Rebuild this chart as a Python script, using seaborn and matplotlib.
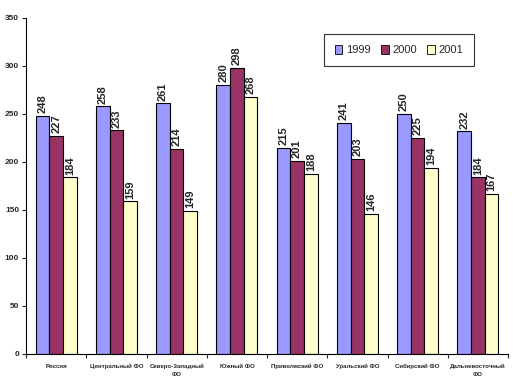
import matplotlib
matplotlib.use("Agg")
import matplotlib.pyplot as plt
import seaborn as sns
import pandas as pd
import numpy as np

categories = ["Россия", "Центральный ФО", "Северо-Западный\nФО", "Южный ФО",
              "Приволжский ФО", "Уральский ФО", "Сибирский ФО", "Дальневосточный\nФО"]
years = ["1999", "2000", "2001"]
v1999 = [248, 258, 261, 280, 215, 241, 250, 232]
v2000 = [227, 233, 214, 298, 201, 203, 225, 184]
v2001 = [184, 159, 149, 268, 188, 146, 194, 167]
colors = ["#9999FF", "#993366", "#FFFFCC"]

rows = []
for y, vals in zip(years, [v1999, v2000, v2001]):
    for c, v in zip(categories, vals):
        rows.append({"cat": c, "year": y, "value": v})
df = pd.DataFrame(rows)

sns.set_style("white")
plt.rcParams['font.family'] = ['Liberation Sans', 'DejaVu Sans']

fig = plt.figure(figsize=(5.14, 3.92), dpi=100)
ax = fig.add_axes([26/514, 38/392, 482/514, 336/392])

sns.barplot(data=df, x="cat", y="value", hue="year", order=categories, hue_order=years,
            palette=colors, width=0.68, edgecolor="black", linewidth=0.8,
            saturation=1, ax=ax, legend=True)

for cont in ax.containers:
    ax.bar_label(cont, labels=[f"{int(round(b.get_height()))}" for b in cont],
                 rotation=90, padding=2, fontsize=8, fontweight="bold")

ax.set_ylim(0, 350)
ax.set_xlim(-0.5, len(categories) - 0.5)
ax.set_yticks(np.arange(0, 351, 50))
ax.set_xlabel("")
ax.set_ylabel("")
ax.tick_params(axis="y", which="major", length=3, width=0.8, direction="out",
               labelsize=6, pad=2, left=True)
for lab in ax.get_yticklabels():
    lab.set_fontweight("bold")
ax.set_xticks(range(len(categories)))
ax.set_xticklabels(categories, fontsize=4.4, fontweight="bold", linespacing=1.7)
ax.tick_params(axis="x", which="major", length=0, pad=7)
ax.set_xticks(np.arange(-0.5, len(categories), 1), minor=True)
ax.tick_params(axis="x", which="minor", length=3, width=0.8, direction="out", bottom=True)

for s in ["top", "right"]:
    ax.spines[s].set_visible(False)
for s in ["left", "bottom"]:
    ax.spines[s].set_color("black")
    ax.spines[s].set_linewidth(0.8)

ax.legend_.remove()
handles = [plt.Rectangle((0, 0), 1, 1, facecolor=c, edgecolor="black", linewidth=0.6) for c in colors]
leg = fig.legend(handles, years, loc="center", ncol=3, mode="expand",
                 bbox_to_anchor=(318/514, (392-65)/392, 162/514, 30/392),
                 bbox_transform=fig.transFigure, frameon=True, fancybox=False,
                 edgecolor="black", fontsize=8, handlelength=0.7, handleheight=0.9,
                 handletextpad=0.3, borderpad=1.0)
leg.get_frame().set_linewidth(0.8)

fig.savefig("out.png", dpi=100)
